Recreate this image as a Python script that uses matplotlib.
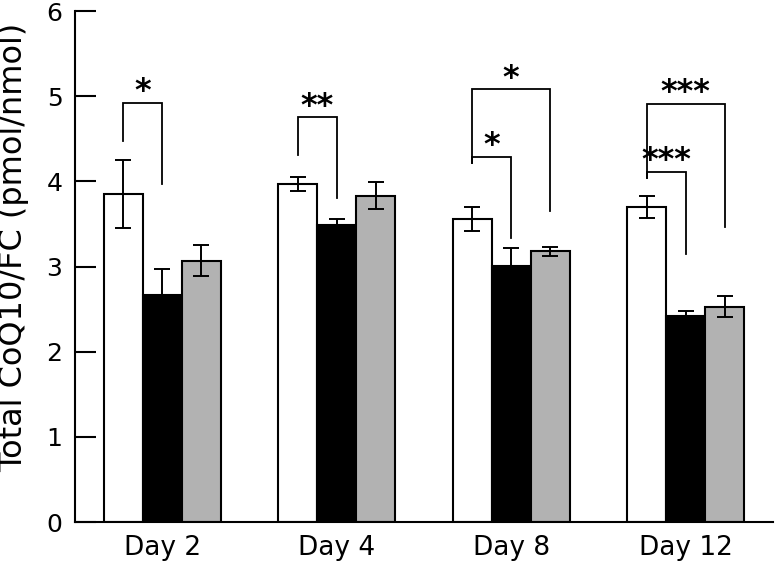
import numpy as np
import matplotlib.pyplot as plt

plt.rcParams['font.family'] = 'DejaVu Sans'

# data
days = ['Day 2', 'Day 4', 'Day 8', 'Day 12']
white_mean = [3.85, 3.97, 3.56, 3.70]
white_err = [0.40, 0.08, 0.14, 0.125]
black_mean = [2.66, 3.49, 3.01, 2.42]
black_err = [0.31, 0.07, 0.21, 0.06]
gray_mean = [3.07, 3.83, 3.18, 2.53]
gray_err = [0.18, 0.16, 0.055, 0.12]

# significance brackets: (group, from bar, to bar, left end, top, right end, label)
brackets = [
    (0, 0, 1, 4.47, 4.92, 3.97, '*'),
    (1, 0, 1, 4.31, 4.75, 3.80, '**'),
    (2, 0, 1, 4.21, 4.29, 3.33, '*'),
    (2, 0, 2, 4.21, 5.08, 3.65, '*'),
    (3, 0, 1, 4.04, 4.11, 3.15, '***'),
    (3, 0, 2, 4.04, 4.91, 3.47, '***'),
]

fig = plt.figure(figsize=(7.76, 5.65), dpi=100)
ax = fig.add_axes([0.0966, 0.076, 0.8994, 0.9045])

x = np.arange(len(days))
w = 0.223
offsets = [-w, 0, w]
series = [(white_mean, white_err, 'white'),
          (black_mean, black_err, 'black'),
          (gray_mean, gray_err, '#b2b2b2')]
for off, (m, e, c) in zip(offsets, series):
    ax.bar(x + off, m, w, color=c, edgecolor='black', linewidth=1.5, zorder=2)
    ax.errorbar(x + off, m, yerr=e, fmt='none', ecolor='black',
                elinewidth=1.4, capsize=5.5, capthick=1.4, zorder=3)

for g, a, b, yl, yt, yr, lab in brackets:
    xa = x[g] + offsets[a]
    xb = x[g] + offsets[b]
    ax.plot([xa, xa, xb, xb], [yl, yt, yt, yr], color='black', lw=1.3,
            solid_joinstyle='miter', zorder=4)
    ax.text((xa + xb) / 2, yt + 0.03, lab, ha='center', va='baseline',
            fontsize=23, fontweight='bold', zorder=4)

ax.set_xlim(-0.5, 3.5)
ax.set_ylim(0, 6)
ax.set_xticks(x)
ax.set_xticklabels(days, fontsize=19)
ax.tick_params(axis='x', length=0, pad=9)
ax.set_yticks(range(7))
ax.tick_params(axis='y', direction='in', length=15, width=1.5, labelsize=18, pad=9)
ax.spines['top'].set_visible(False)
ax.spines['right'].set_visible(False)
ax.spines['left'].set_linewidth(1.5)
ax.spines['bottom'].set_linewidth(1.5)

fig.text(14 / 776, 0.563, 'Total CoQ10/FC (pmol/nmol)', rotation=90,
         ha='center', va='center', fontsize=23)

fig.savefig('out.png', dpi=100)
